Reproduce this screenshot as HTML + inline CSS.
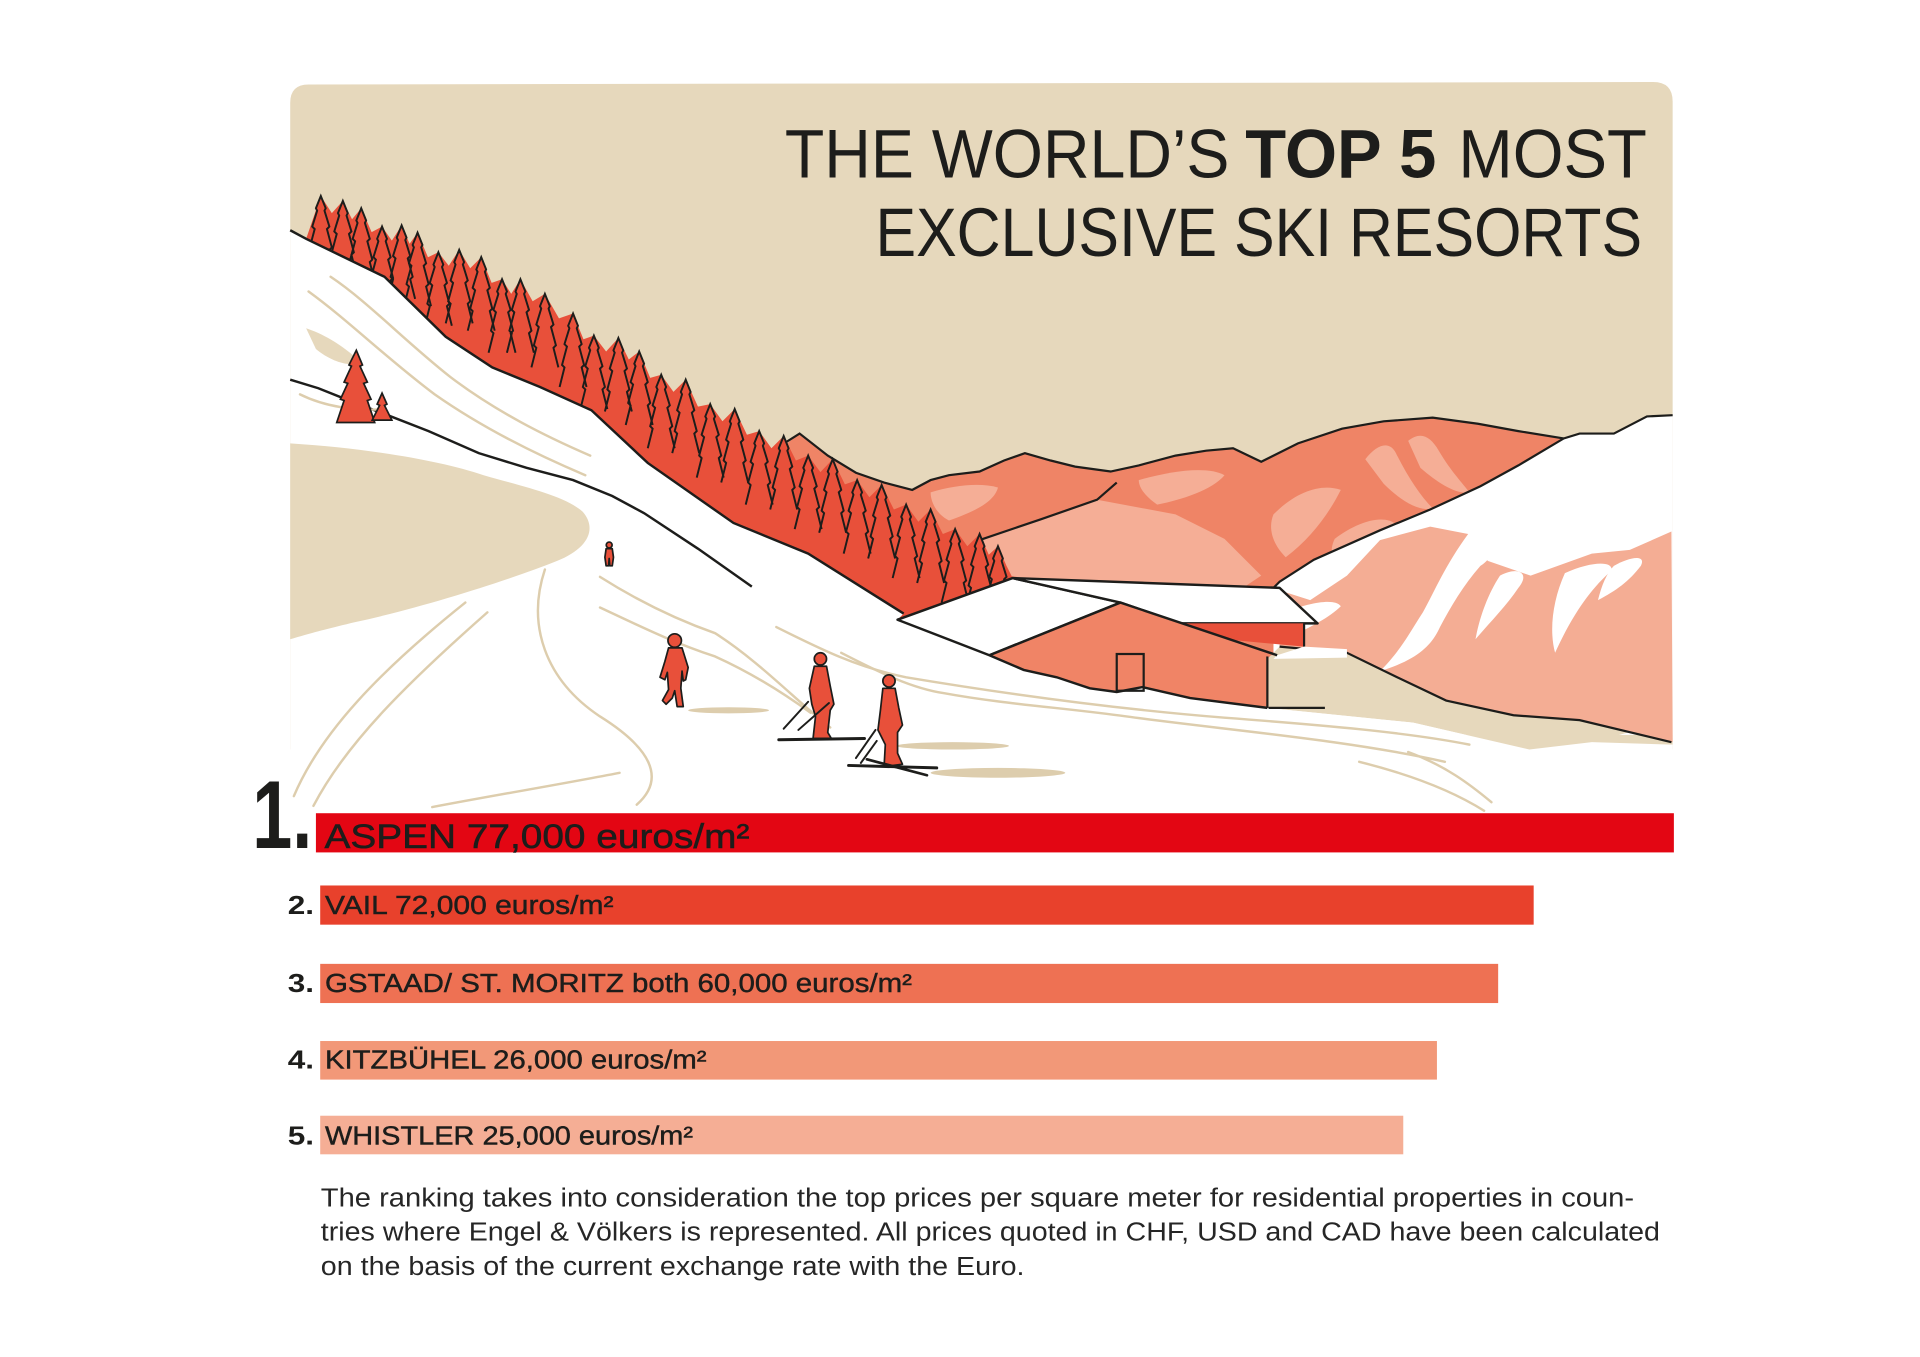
<!DOCTYPE html>
<html>
<head>
<meta charset="utf-8">
<style>
html,body{margin:0;padding:0;background:#fff;width:1920px;height:1357px;overflow:hidden}
svg{display:block}
text{font-family:"Liberation Sans",Arial,sans-serif;fill:#1d1d1b}
</style>
</head>
<body>
<svg width="1920" height="1357" viewBox="0 0 1568 1108" preserveAspectRatio="none" xmlns="http://www.w3.org/2000/svg">
<defs>
  <path id="t" d="M-11,60 L-7,44 L-9,42 L-5,27 L-7,25 L-3,12 L-4,10 L0,0 L4,10 L3,12 L7,25 L5,27 L9,42 L7,44 L11,60" fill="none" stroke="#1d1d1b" stroke-width="1.6" stroke-linejoin="miter"/>
  <clipPath id="band">
    <polygon points="250,195 262,150 280,154 295,160 312,175 328,174 341,180 358,196 375,194 393,200 410,218 425,218 445,230 468,246 485,264 505,266 522,277 540,296 560,300 580,320 600,324 620,342 640,346 660,362 680,365 700,382 720,386 740,402 760,406 780,422 800,426 815,436 822,462 827,472 733,506 738,501 660,452 599,427 529,378 483,335 441,316 402,300 364,275 314,226"/>
  </clipPath>
</defs>

<!-- sky panel -->
<path d="M237,84 Q237,69 252,69 L1350,67 Q1366,67 1366,83 L1366,612 L237,612 Z" fill="#e6d8bc"/>

<!-- back mountains -->
<polygon points="630,372 653,354 676,372 699,386 722,394 745,400 760,392 775,388 800,385 820,376 837,370 858,376 878,381 907,385 930,380 960,372 985,368 1007,366 1030,377 1060,362 1096,350 1130,344 1170,341 1207,346 1240,352 1277,358 1290,354 1290,580 630,580" fill="#ef8466"/>
<!-- light patches -->
<polygon points="800,441 896,408 960,420 1000,440 1030,470 1000,490 950,480 900,478 850,475 815,468" fill="#f5ae96"/>
<path d="M760,402 C780,396 800,394 815,398 C812,410 795,418 775,425 C765,420 760,410 760,402Z" fill="#f5ae96"/>
<path d="M930,392 C955,385 985,380 1000,388 C990,400 965,408 945,412 C935,405 930,398 930,392Z" fill="#f5ae96"/>
<path d="M1040,420 C1060,400 1080,395 1095,400 C1085,420 1070,440 1050,455 C1040,445 1035,432 1040,420Z" fill="#f5ae96"/>
<path d="M1115,375 C1125,362 1135,360 1140,370 C1150,390 1160,405 1170,415 C1160,418 1145,410 1130,395Z" fill="#f5ae96"/>
<path d="M1150,360 C1160,352 1168,356 1175,368 C1185,385 1195,395 1200,402 C1190,404 1175,395 1160,382Z" fill="#f5ae96"/>
<path d="M1090,440 C1110,425 1130,420 1140,428 C1130,445 1110,460 1095,470 C1088,460 1085,450 1090,440Z" fill="#f5ae96"/>
<polyline points="634,366 653,354 676,372 699,386 722,394 745,400 760,392 775,388 800,385 820,376 837,370 858,376 878,381 907,385 930,380 960,372 985,368 1007,366 1030,377 1060,362 1096,350 1130,344 1170,341 1207,346 1240,352 1277,358" fill="none" stroke="#1d1d1b" stroke-width="1.8"/>
<polyline points="800,441 850,424 896,408 912,394" fill="none" stroke="#1d1d1b" stroke-width="1.8"/>

<!-- white mountain right -->
<polygon points="1277,358 1290,354 1318,354 1345,340 1366,339 1366,600 1040,600 1040,480 1045,475 1073,457 1127,433 1168,416 1209,397 1240,380" fill="#fff"/>
<polyline points="1040,480 1045,475 1073,457 1127,433 1168,416 1209,397 1240,380 1277,358 1290,354 1318,354 1345,340 1366,339" fill="none" stroke="#1d1d1b" stroke-width="1.8"/>

<!-- front pink mountain -->
<polygon points="1045,482 1070,490 1100,470 1127,441 1168,430 1199,436 1215,458 1250,470 1300,452 1331,449 1365,434 1366,606 1290,588 1236,584 1181,572 1141,553 1100,533 1045,528" fill="#f4ad94"/>
<!-- white streaks -->
<path d="M1199,436 C1215,440 1225,452 1209,462 C1195,478 1185,495 1176,512 C1170,525 1160,538 1127,548 C1145,530 1152,515 1162,500 C1172,482 1180,462 1199,436Z" fill="#fff"/>
<path d="M1225,470 C1240,462 1250,468 1240,480 C1230,495 1215,510 1205,522 C1208,505 1215,485 1225,470Z" fill="#fff"/>
<path d="M1278,468 C1300,458 1318,458 1316,466 C1300,480 1285,500 1270,533 C1265,515 1268,490 1278,468Z" fill="#fff"/>
<path d="M1318,462 C1330,455 1345,452 1340,462 C1330,475 1320,482 1305,490 C1308,478 1312,468 1318,462Z" fill="#fff"/>
<path d="M1048,500 C1070,492 1090,488 1095,495 C1085,505 1065,515 1048,522Z" fill="#fff"/>

<!-- beige ground right -->
<polygon points="1036,537 1045,528 1100,533 1141,553 1181,572 1236,584 1290,588 1330,598 1300,606 1249,612 1154,590 1045,579 1036,579" fill="#e6d8bc"/>
<polyline points="1045,528 1100,533 1141,553 1181,572 1236,584 1290,588 1365,606" fill="none" stroke="#1d1d1b" stroke-width="1.8"/>

<!-- snow foreground -->
<polygon points="237,188 250,195 314,226 364,275 402,300 441,316 483,335 529,378 599,427 660,452 738,501 733,506 808,535 836,547 863,553 890,562 912,565 933,561 972,570 1035,578 1045,579 1154,590 1249,612 1300,606 1366,608 1366,720 237,720" fill="#fff"/>

<!-- tree band -->
<polygon points="250,195 262,160 271,174 280,164 287.5,179 295,170 303.5,189.5 312,185 320,196.5 328,184 334.5,199 341,190 349.5,210 358,206 366.5,217 375,204 384,219 393,210 401.5,231 410,228 417.5,240 425,228 435,246 445,240 456.5,260 468,256 476.5,277 485,274 495,287 505,276 513.5,293.5 522,287 531,308.5 540,306 550,320 560,310 570,332 580,330 590,344 600,334 610,355 620,352 630,366 640,356 650,376 660,372 670,385.5 680,375 690,395.5 700,392 710,406 720,396 730,416 740,412 750,426 760,416 770,436 780,432 790,446 800,436 807.5,453 815,446 822,462 827,472 733,506 738,501 660,452 599,427 529,378 483,335 441,316 402,300 364,275 314,226" fill="#e8503a"/>
<g clip-path="url(#band)">
  <use href="#t" x="262" y="160"/><use href="#t" x="280" y="164"/><use href="#t" x="295" y="170"/>
  <use href="#t" x="312" y="185"/><use href="#t" x="328" y="184"/><use href="#t" x="341" y="190"/>
  <use href="#t" x="358" y="206"/><use href="#t" x="375" y="204"/><use href="#t" x="393" y="210"/>
  <use href="#t" x="410" y="228"/><use href="#t" x="425" y="228"/><use href="#t" x="445" y="240"/>
  <use href="#t" x="468" y="256"/><use href="#t" x="485" y="274"/><use href="#t" x="505" y="276"/>
  <use href="#t" x="522" y="287"/><use href="#t" x="540" y="306"/><use href="#t" x="560" y="310"/>
  <use href="#t" x="580" y="330"/><use href="#t" x="600" y="334"/><use href="#t" x="620" y="352"/>
  <use href="#t" x="640" y="356"/><use href="#t" x="660" y="372"/><use href="#t" x="680" y="375"/>
  <use href="#t" x="700" y="392"/><use href="#t" x="720" y="396"/><use href="#t" x="740" y="412"/>
  <use href="#t" x="760" y="416"/><use href="#t" x="780" y="432"/><use href="#t" x="800" y="436"/>
  <use href="#t" x="815" y="446"/>
</g>
<!-- slope lines -->
<polyline points="237,188 250,195 314,226 364,275 402,300 441,316 483,335 529,378 599,427 660,452 738,501" fill="none" stroke="#1d1d1b" stroke-width="2"/>
<polyline points="237,310 260,317 290,329 314,338 350,352 391,370 430,382 468,392 500,405 526,419 570,448 614,479" fill="none" stroke="#1d1d1b" stroke-width="2"/>

<!-- beige blob left -->
<path d="M237,362 C300,366 360,376 395,388 C430,398 462,405 476,418 C488,432 480,448 455,458 C420,472 350,495 290,508 C265,514 250,518 237,522 Z" fill="#e6d8bc"/>
<path d="M250,268 C262,272 278,280 295,296 C285,300 270,295 258,285Z" fill="#e6d8bc"/>

<!-- ski tracks -->
<g fill="none" stroke="#ddcdad" stroke-width="2" stroke-linecap="round">
  <path d="M252,238 C285,262 315,292 355,322 C395,350 440,372 478,388"/>
  <path d="M270,226 C300,246 330,278 368,308 C405,336 445,356 482,372"/>
  <path d="M245,322 C265,332 292,336 312,334"/>
  <path d="M240,650 C262,598 310,548 380,492"/>
  <path d="M256,658 C282,608 330,560 398,500"/>
  <path d="M445,465 C430,510 445,555 490,585 C530,610 545,635 520,657"/>
  <path d="M353,659 C400,650 460,640 506,631"/>
  <path d="M490,471 C520,490 550,505 584,517 C620,540 650,572 678,594"/>
  <path d="M490,496 C520,510 550,525 584,536 C615,550 640,566 662,582"/>
  <path d="M634,512 C670,530 700,545 740,553 C800,563 900,578 1000,586 C1080,592 1150,598 1200,608"/>
  <path d="M687,533 C720,550 745,562 771,566 C820,575 870,578 920,585 C1000,596 1100,604 1180,622"/>
  <path d="M1110,622 C1150,632 1185,645 1212,662"/>
  <path d="M1150,614 C1180,625 1200,640 1218,655"/>
</g>

<!-- small trees on hill -->
<path d="M291,286 L296,298 L294,299 L300,312 L297,313 L303,326 L300,327 L306,345 L275,345 L281,327 L278,326 L284,313 L281,312 L287,299 L285,298 Z" fill="#e8503a" stroke="#1d1d1b" stroke-width="1.4"/>
<path d="M312,321 L316,330 L314,331 L320,343 L304,343 L310,331 L308,330 Z" fill="#e8503a" stroke="#1d1d1b" stroke-width="1.4"/>

<!-- house -->
<polygon points="733,506 827,472 915,492 808,535" fill="#fff" stroke="#1d1d1b" stroke-width="2" stroke-linejoin="round"/>
<polygon points="827,472 1045,480 1076,509 964,509 915,492" fill="#fff" stroke="#1d1d1b" stroke-width="2" stroke-linejoin="round"/>
<polygon points="964,509 1065,509 1065,528 1000,522" fill="#e8503a"/>
<line x1="1065" y1="509" x2="1065" y2="528" stroke="#1d1d1b" stroke-width="1.8"/>
<polygon points="1043,535 1065,528 1100,530 1100,537 1040,538" fill="#fff"/>
<polygon points="808,535 915,492 1043,535 1035,535 1035,578 972,570 933,561 912,565 890,562 863,553 836,547" fill="#f08466"/>
<polyline points="808,535 915,492 1043,535" fill="none" stroke="#1d1d1b" stroke-width="2"/>
<polyline points="808,535 836,547 863,553 890,562 912,565 933,561 972,570 1035,578" fill="none" stroke="#1d1d1b" stroke-width="2"/>
<line x1="1035" y1="536" x2="1035" y2="578" stroke="#1d1d1b" stroke-width="1.8"/>
<line x1="1036" y1="578" x2="1082" y2="578" stroke="#1d1d1b" stroke-width="1.8"/>
<rect x="912" y="534" width="22" height="30" fill="none" stroke="#1d1d1b" stroke-width="1.8"/>

<!-- shadows -->
<ellipse cx="595" cy="580" rx="33" ry="2.5" fill="#ddcdad"/>
<ellipse cx="778" cy="609" rx="46" ry="3" fill="#ddcdad"/>
<ellipse cx="815" cy="631" rx="55" ry="4" fill="#ddcdad"/>

<!-- people -->
<g fill="#e8503a" stroke="#1d1d1b" stroke-width="1.4" stroke-linejoin="round">
  <circle cx="497.5" cy="445" r="2.4"/>
  <path d="M495,448 L500,448 L501,455 L500,462 L498,462 L497.5,456 L497,462 L495,462 L494,455 Z"/>
  <circle cx="551" cy="523" r="5.5"/>
  <path d="M546,529 L557,529 L562,545 L560,555 L558,556 L557,548 L556,562 L558,577 L553,577 L551,564 L549,570 L544,575 L541,572 L546,563 L545,549 L543,555 L539,553 L543,540 Z"/>
  <circle cx="670" cy="538" r="5"/>
  <path d="M665,544 L675,544 L678,560 L681,575 L678,580 L676,598 L679,603 L664,603 L666,585 L663,575 L661,562 Z"/>
  <circle cx="726" cy="556" r="5"/>
  <path d="M721,562 L731,562 L734,578 L737,592 L733,598 L733,615 L737,624 L722,626 L723,608 L717,596 L719,580 Z"/>
</g>
<g stroke="#1d1d1b" stroke-width="1.6" stroke-linecap="round">
  <line x1="660" y1="573" x2="640" y2="595"/>
  <line x1="677" y1="574" x2="652" y2="596"/>
  <line x1="636" y1="604" x2="706" y2="603" stroke-width="2.4"/>
  <line x1="715" y1="596" x2="699" y2="619"/>
  <line x1="716" y1="605" x2="703" y2="623"/>
  <line x1="693" y1="625" x2="765" y2="627" stroke-width="2.4"/>
  <line x1="708" y1="620" x2="757" y2="633" stroke-width="2.2"/>
</g>

<!-- title -->
<text x="641" y="145" font-size="56" textLength="363" lengthAdjust="spacingAndGlyphs">THE WORLD’S</text>
<text x="1017" y="145" font-size="56" font-weight="bold" textLength="156" lengthAdjust="spacingAndGlyphs">TOP 5</text>
<text x="1191" y="145" font-size="56" textLength="154" lengthAdjust="spacingAndGlyphs">MOST</text>
<text x="715" y="209" font-size="56" textLength="626" lengthAdjust="spacingAndGlyphs">EXCLUSIVE SKI RESORTS</text>

<!-- bars -->
<rect x="258" y="664" width="1109" height="32" fill="#e30613"/>
<rect x="261.5" y="723" width="991" height="32" fill="#e8412c"/>
<rect x="261.5" y="787" width="962" height="32" fill="#ee7153"/>
<rect x="261.5" y="850" width="912" height="31.5" fill="#f29878"/>
<rect x="261.5" y="911" width="884.5" height="31.5" fill="#f5ae95"/>

<text x="206" y="692.5" font-size="79" font-weight="bold" textLength="49" lengthAdjust="spacingAndGlyphs">1.</text>
<text x="265" y="692.5" font-size="28" stroke="#1d1d1b" stroke-width="0.45" textLength="347" lengthAdjust="spacingAndGlyphs">ASPEN 77,000 euros/m²</text>

<g font-size="21" font-weight="bold">
  <text x="235" y="746.5" textLength="21.5" lengthAdjust="spacingAndGlyphs">2.</text>
  <text x="235" y="810" textLength="21.5" lengthAdjust="spacingAndGlyphs">3.</text>
  <text x="235" y="872.5" textLength="21.5" lengthAdjust="spacingAndGlyphs">4.</text>
  <text x="235" y="934.5" textLength="21.5" lengthAdjust="spacingAndGlyphs">5.</text>
</g>
<g font-size="21" stroke="#1d1d1b" stroke-width="0.35">
  <text x="265.4" y="746.5" textLength="235.6" lengthAdjust="spacingAndGlyphs">VAIL 72,000 euros/m²</text>
  <text x="265.4" y="810" textLength="479.4" lengthAdjust="spacingAndGlyphs">GSTAAD/ ST. MORITZ both 60,000 euros/m²</text>
  <text x="265.4" y="872.5" textLength="311.6" lengthAdjust="spacingAndGlyphs">KITZBÜHEL 26,000 euros/m²</text>
  <text x="265.4" y="934.5" textLength="300.6" lengthAdjust="spacingAndGlyphs">WHISTLER 25,000 euros/m²</text>
</g>

<!-- paragraph -->
<g font-size="21" style="fill:#262626">
  <text x="262" y="985" textLength="1072.5" lengthAdjust="spacingAndGlyphs" style="fill:#262626">The ranking takes into consideration the top prices per square meter for residential properties in coun-</text>
  <text x="262" y="1013" textLength="1093.6" lengthAdjust="spacingAndGlyphs" style="fill:#262626">tries where Engel &amp; Völkers is represented. All prices quoted in CHF, USD and CAD have been calculated</text>
  <text x="262" y="1041" textLength="574.7" lengthAdjust="spacingAndGlyphs" style="fill:#262626">on the basis of the current exchange rate with the Euro.</text>
</g>
</svg>
</body>
</html>
